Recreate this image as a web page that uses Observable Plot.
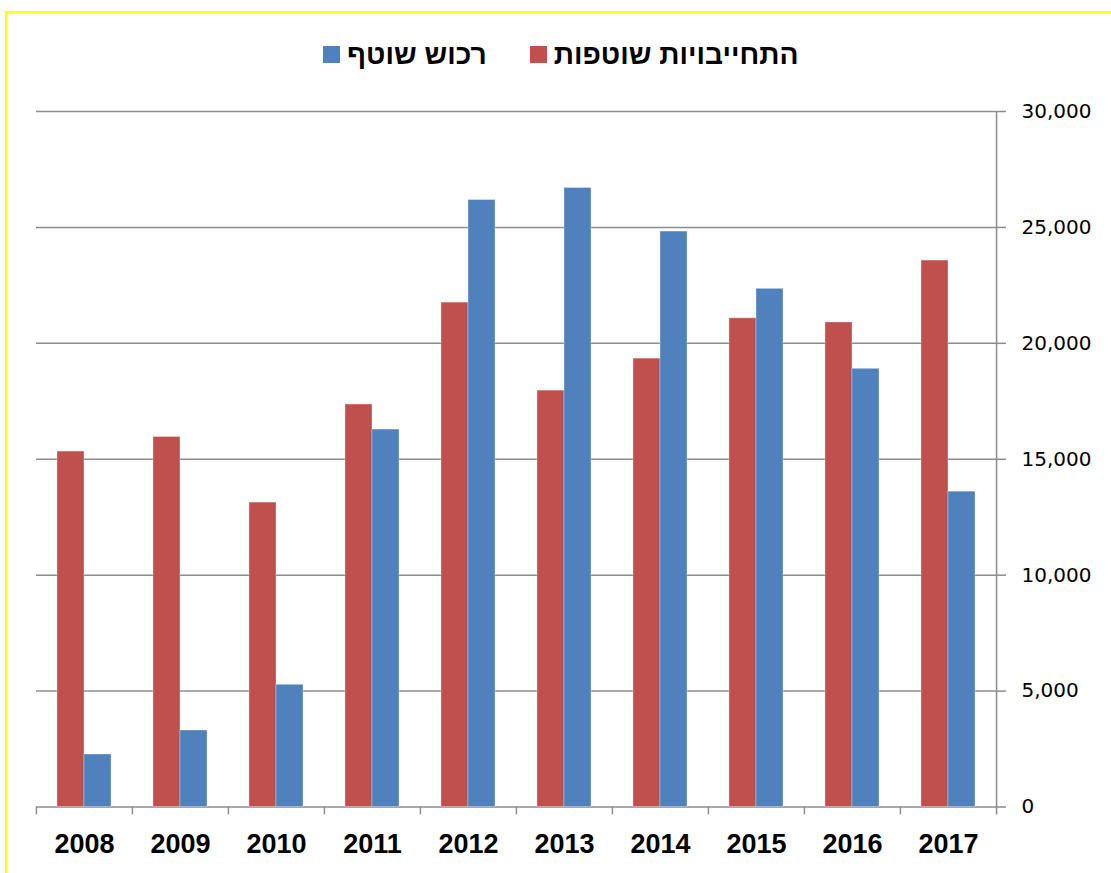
<!DOCTYPE html>
<html>
<head>
<meta charset="utf-8">
<script src="https://cdn.jsdelivr.net/npm/d3@7"></script>
<script src="https://cdn.jsdelivr.net/npm/@observablehq/plot@0.6"></script>
<style>
  html, body { margin: 0; padding: 0; background: #fff; }
  #wrap { position: relative; width: 1111px; height: 873px; overflow: hidden; }
  #border { position: absolute; left: 5px; top: 11px; right: -10px; bottom: -10px;
            border-left: 2px solid #ffff00; border-top: 2px solid #ffff00; pointer-events: none; }
  #chart { position: absolute; left: 0; top: 0; }
  #legend { position: absolute; left: 323px; top: 37px; height: 34px; display: flex; align-items: center;
            font-family: "Liberation Sans", Arial, sans-serif; font-weight: bold; font-size: 28.2px; color: #000; }
  .sw { width: 17px; height: 17px; display: inline-block; }
  .lbl { margin-left: 7px; }
</style>
</head>
<body>
<div id="wrap">
  <div id="chart"></div>
  <div id="legend"></div>
  <div id="border"></div>
</div>
<script>
const years = ["2008", "2009", "2010", "2011", "2012", "2013", "2014", "2015", "2016", "2017"];
const seriesNames = ["התחייבויות שוטפות", "רכוש שוטף"];
const seriesColors = ["#C0504D", "#4F81BD"];
const currentLiabilities = [15330, 15960, 13130, 17360, 21755, 17960, 19340, 21080, 20900, 23570];
const currentAssets = [2264, 3300, 5270, 16280, 26180, 26700, 24820, 22350, 18900, 13600];
const yTicks = [0, 5000, 10000, 15000, 20000, 25000, 30000];

const table = [];
years.forEach((y, i) => {
  table.push({year: y, series: seriesNames[0], value: currentLiabilities[i]});
  table.push({year: y, series: seriesNames[1], value: currentAssets[i]});
});

const W = 1111, H = 873, mL = 35, mR = 114.5, mT = 111, mB = 66.5;
const halfStep = (W - mL - mR) / years.length / 2;
const gray = "#8c8c8c";

const chart = Plot.plot({
  width: W, height: H,
  marginLeft: mL, marginRight: mR, marginTop: mT, marginBottom: mB,
  style: {fontFamily: "'DejaVu Sans', sans-serif", fontSize: "20px", color: "#000", background: "transparent"},
  fx: {domain: years, padding: 0, label: null},
  x: {domain: seriesNames, paddingInner: 0, paddingOuter: 0.77, axis: null},
  y: {domain: [0, 30000], label: null},
  color: {domain: seriesNames, range: seriesColors},
  marks: [
    Plot.gridY(yTicks, {stroke: gray, strokeOpacity: 1, strokeWidth: 1.5}),
    Plot.barY(table, {fx: "year", x: "series", y: "value", fill: "series", stroke: "#fff", strokeOpacity: 0.3, strokeWidth: 1}),
    Plot.axisFx({anchor: "bottom", tickSize: 0, tickPadding: 27, fontSize: 27, fontWeight: "bold",
                 fontFamily: "'Liberation Sans', Arial, sans-serif", fill: "#000", label: null}),
    Plot.axisFx({anchor: "bottom", tickSize: 8, tickFormat: () => "", dx: -halfStep, stroke: gray, strokeWidth: 1.5, label: null}),
    Plot.ruleX([years[years.length - 1]], {fx: d => d, x: null, y1: 30000, y2: 0, dx: halfStep,
                 insetBottom: -8, stroke: gray, strokeWidth: 1.5}),
    Plot.axisY({anchor: "right", ticks: yTicks, tickSize: 9, tickPadding: 16, tickFormat: d3.format(","),
                stroke: gray, strokeWidth: 1.5, fill: "#000", fontSize: 20, label: null})
  ]
});
document.getElementById("chart").appendChild(chart);

// Legend (RTL order: first series at the right)
const legend = document.getElementById("legend");
[1, 0].forEach((i, k) => {
  if (k > 0) {
    const gap = document.createElement("span");
    gap.style.width = "43px";
    gap.style.display = "inline-block";
    legend.appendChild(gap);
  }
  const sw = document.createElement("span");
  sw.className = "sw";
  sw.style.background = seriesColors[i];
  legend.appendChild(sw);
  const t = document.createElement("span");
  t.className = "lbl";
  t.dir = "rtl";
  t.textContent = seriesNames[i];
  legend.appendChild(t);
});
</script>
</body>
</html>
